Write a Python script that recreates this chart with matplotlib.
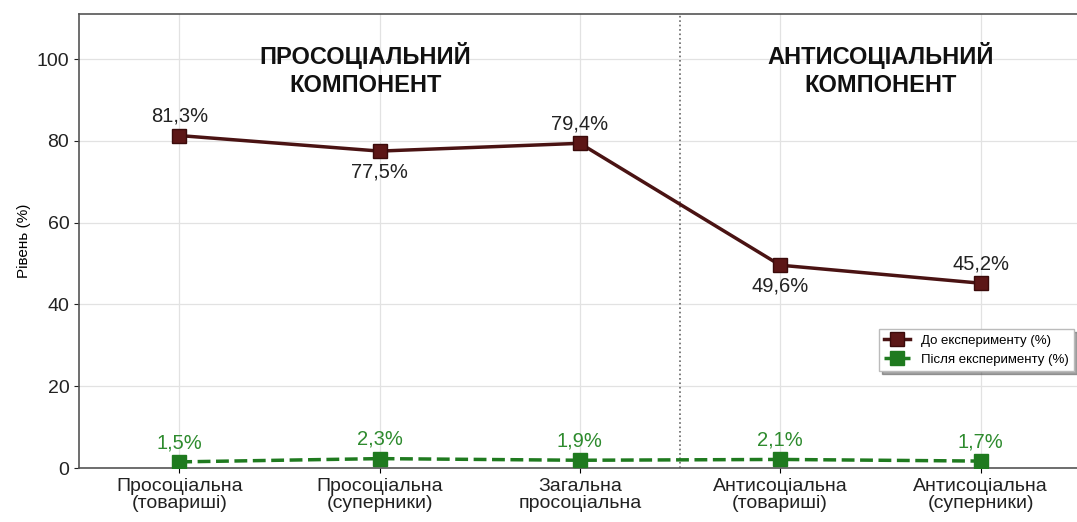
import matplotlib.pyplot as plt

plt.rcParams['font.family'] = ['Liberation Sans', 'DejaVu Sans']

categories = ["Просоціальна\n(товариші)", "Просоціальна\n(суперники)",
              "Загальна\nпросоціальна", "Антисоціальна\n(товариші)",
              "Антисоціальна\n(суперники)"]
before = [81.3, 77.5, 79.4, 49.6, 45.2]
after = [1.5, 2.3, 1.9, 2.1, 1.7]
before_label_pos = ["above", "below", "above", "below", "above"]

red = "#4a1313"
green = "#1f7a1f"

fig = plt.figure(figsize=(10.77, 5.22), dpi=100)
ax = fig.add_axes([0.0734, 0.1034, 0.93, 0.8696])

x = range(len(categories))
ax.plot(x, before, color=red, lw=2.5, marker="s", markersize=10,
        markerfacecolor="#5c1616", markeredgecolor="#3a0a0a",
        label="До експерименту (%)", zorder=3)
ax.plot(x, after, color=green, lw=2.5, ls="--", marker="s", markersize=10,
        markerfacecolor=green, markeredgecolor=green,
        label="Після експерименту (%)", zorder=3)

for i, (v, pos) in enumerate(zip(before, before_label_pos)):
    off = 7 if pos == "above" else -8
    va = "bottom" if pos == "above" else "top"
    ax.annotate(f"{v:.1f}%".replace(".", ","), (i, v), xytext=(0, off),
                textcoords="offset points", ha="center", va=va,
                fontsize=14.5, color="#222222")
for i, v in enumerate(after):
    ax.annotate(f"{v:.1f}%".replace(".", ","), (i, v), xytext=(0, 7),
                textcoords="offset points", ha="center", va="bottom",
                fontsize=14.5, color="#2e8b2e")

ax.axvline(2.5, color="#666666", ls=":", lw=1.2, zorder=1)

ax.text(0.93, 97.5, "ПРОСОЦІАЛЬНИЙ\nКОМПОНЕНТ", ha="center", va="center",
        fontsize=17, fontweight="bold", color="#111111", linespacing=1.25)
ax.text(3.5, 97.5, "АНТИСОЦІАЛЬНИЙ\nКОМПОНЕНТ", ha="center", va="center",
        fontsize=17, fontweight="bold", color="#111111", linespacing=1.25)

ax.set_xlim(-0.5, 4.5)
ax.set_ylim(0, 111)
ax.set_xticks(list(x))
ax.set_xticklabels(categories, fontsize=14, color="#222222", linespacing=1.05)
ax.set_yticks([0, 20, 40, 60, 80, 100])
ax.tick_params(axis="y", labelsize=14, colors="#222222")
ax.set_ylabel("Рівень (%)", fontsize=11)
ax.grid(True, color="#e2e2e2", lw=0.9)
ax.set_axisbelow(True)
for s in ax.spines.values():
    s.set_color("#555555")
    s.set_linewidth(1.2)

ax.legend(loc="upper right", bbox_to_anchor=(1.0, 0.32), fontsize=9.5,
          frameon=True, edgecolor="#bbbbbb", fancybox=False, shadow=True,
          handlelength=2.0)

fig.savefig("out.png", dpi=100)
